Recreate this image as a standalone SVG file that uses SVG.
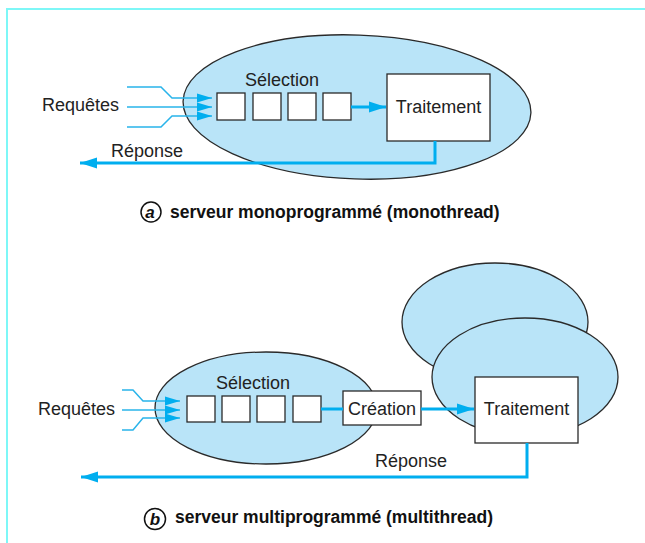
<svg xmlns="http://www.w3.org/2000/svg" width="645" height="543" viewBox="0 0 645 543">
  <defs>
    <style>
      .frame { stroke: #7ef7f7; stroke-width: 2; fill: none; }
      .zone { fill: #b9e4f8; stroke: #2a2a2a; stroke-width: 1.3; }
      .box { fill: #ffffff; stroke: #2a2a2a; stroke-width: 1.3; }
      .lbl { font-family: "Liberation Sans", Arial, sans-serif; font-size: 18px; fill: #222222; }
      .cap { font-family: "Liberation Sans", Arial, sans-serif; font-size: 17.5px; font-weight: bold; fill: #111111; }
      .tag { font-family: "Liberation Sans", Arial, sans-serif; font-size: 17px; font-weight: bold; font-style: italic; fill: #111111; }
      .in { stroke: #29b4ea; stroke-width: 1.5; fill: none; }
      .flow { stroke: #00aeef; stroke-width: 3; fill: none; }
    </style>
    <marker id="tipThin" markerUnits="userSpaceOnUse" markerWidth="16" markerHeight="10" refX="15" refY="5" orient="auto">
      <path d="M0,0.5 L15,5 L0,9.5 Z" fill="#00aeef"/>
    </marker>
    <marker id="tipThick" markerUnits="userSpaceOnUse" markerWidth="18" markerHeight="12" refX="17" refY="6" orient="auto">
      <path d="M0,0.5 L17,6 L0,11.5 Z" fill="#00aeef"/>
    </marker>
  </defs>

  <!-- frame -->
  <path class="frame" d="M7,543 V9 H645"/>

  <!-- (a) single-threaded server -->
  <g id="a-process">
    <ellipse class="zone" cx="357" cy="107" rx="174" ry="72" transform="rotate(2 357 107)"/>
    <text class="lbl" x="245" y="86">Sélection</text>
  </g>
  <g id="a-queue">
    <rect class="box" x="217" y="93" width="28" height="27"/>
    <rect class="box" x="253" y="93" width="28" height="27"/>
    <rect class="box" x="288" y="93" width="28" height="27"/>
    <rect class="box" x="323" y="93" width="28" height="27"/>
  </g>
  <g id="a-traitement">
    <rect class="box" x="387" y="74" width="103" height="67"/>
    <text class="lbl" x="438.5" y="113" text-anchor="middle">Traitement</text>
  </g>
  <g id="a-requetes">
    <text class="lbl" x="42" y="111">Requêtes</text>
  </g>

  <g id="a-connectors">
    <path class="in" d="M127,87 H161 L172,98 H212" marker-end="url(#tipThin)"/>
    <path class="in" d="M127,107 H212" marker-end="url(#tipThin)"/>
    <path class="in" d="M127,127 H161 L172,116 H212" marker-end="url(#tipThin)"/>
    <path class="flow" d="M351,107 H386" marker-end="url(#tipThick)"/>
    <path class="flow" d="M435,141 V163 H80" marker-end="url(#tipThick)"/>
    <text class="lbl" x="111" y="157">Réponse</text>
  </g>

  <g id="a-caption">
    <circle cx="151" cy="212" r="10" fill="none" stroke="#111" stroke-width="1.5"/>
    <text class="tag" x="150" y="218" text-anchor="middle">a</text>
    <text class="cap" x="170" y="218">serveur monoprogrammé (monothread)</text>
  </g>

  <!-- (b) multi-threaded server -->
  <g id="b-thread-back">
    <ellipse class="zone" cx="495" cy="322" rx="93" ry="59"/>
  </g>
  <g id="b-thread-front">
    <ellipse class="zone" cx="525" cy="377" rx="93" ry="59"/>
  </g>
  <g id="b-process">
    <ellipse class="zone" cx="266" cy="408" rx="111" ry="56"/>
    <text class="lbl" x="216" y="389">Sélection</text>
  </g>
  <g id="b-queue">
    <rect class="box" x="187" y="396" width="28" height="26"/>
    <rect class="box" x="222" y="396" width="28" height="26"/>
    <rect class="box" x="257" y="396" width="28" height="26"/>
    <rect class="box" x="293" y="396" width="28" height="26"/>
  </g>
  <g id="b-creation">
    <rect class="box" x="343" y="391" width="78" height="34"/>
    <text class="lbl" x="382" y="415" text-anchor="middle">Création</text>
  </g>
  <g id="b-traitement">
    <rect class="box" x="475" y="377" width="103" height="66"/>
    <text class="lbl" x="526.5" y="415" text-anchor="middle">Traitement</text>
  </g>
  <g id="b-requetes">
    <text class="lbl" x="38" y="415">Requêtes</text>
  </g>

  <g id="b-connectors">
    <path class="in" d="M122,390 H133 L143,401 H180" marker-end="url(#tipThin)"/>
    <path class="in" d="M122,410 H180" marker-end="url(#tipThin)"/>
    <path class="in" d="M122,430 H133 L143,418 H180" marker-end="url(#tipThin)"/>
    <path class="flow" d="M321,409 H343"/>
    <path class="flow" d="M421,409 H474" marker-end="url(#tipThick)"/>
    <path class="flow" d="M527,443 V477 H81" marker-end="url(#tipThick)"/>
    <text class="lbl" x="375" y="467">Réponse</text>
  </g>

  <g id="b-caption">
    <circle cx="155" cy="519" r="10.5" fill="none" stroke="#111" stroke-width="1.5"/>
    <text class="tag" x="155" y="525" text-anchor="middle">b</text>
    <text class="cap" x="175" y="523">serveur multiprogrammé (multithread)</text>
  </g>
</svg>
